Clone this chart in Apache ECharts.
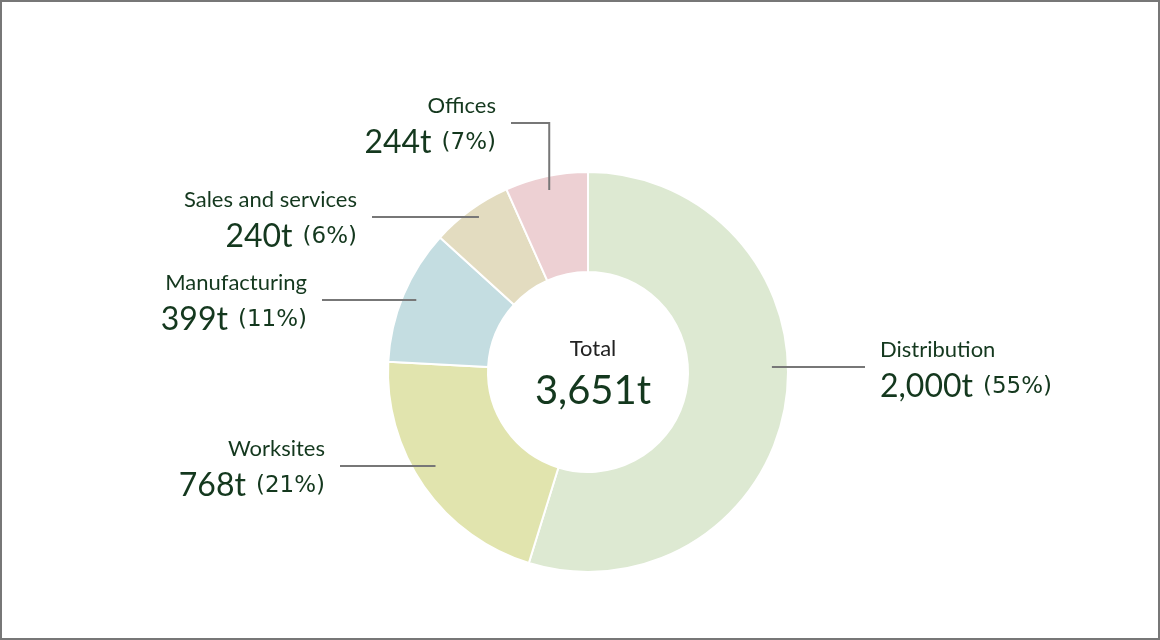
<!DOCTYPE html>
<html>
<head>
<meta charset="utf-8">
<script src="https://cdn.jsdelivr.net/npm/echarts@6/dist/echarts.min.js"></script>
<style>
  html, body { margin: 0; padding: 0; background: #fff; }
  #chart { position: absolute; left: 0; top: 0; width: 1160px; height: 640px; }
  #frame { position: absolute; left: 0; top: 0; width: 1160px; height: 640px;
    box-sizing: border-box; border: 2px solid #777; pointer-events: none; }
</style>
</head>
<body>
<div id="chart"></div>
<div id="frame"></div>
<script>
  // data
  var categories = ['Distribution', 'Worksites', 'Manufacturing', 'Sales and services', 'Offices'];
  var tonnes = [2000, 768, 399, 240, 244];
  var percents = [55, 21, 11, 6, 7];
  var totalText = '3,651t';

  var colors = ['#dde9d2', '#e1e4ae', '#c4dde1', '#e3dcc0', '#edd0d3'];
  var textColor = '#14381e';

  // label placement (layout only)
  var center = [588, 372];
  var lineStartR = 186;
  var labelY = [367, 466, 300, 217, 123];
  var lineEndX = [865, 340, 322, 372, 511];
  var elbow = [false, false, false, false, true];
  var labelGap = 15;

  var chart = echarts.init(document.getElementById('chart'));

  function fmtNum(n) {
    return String(n).replace(/\B(?=(\d{3})+(?!\d))/g, ',');
  }

  var sum = tonnes.reduce(function (a, b) { return a + b; }, 0);

  // mid angle of a slice, clockwise from 12 o'clock, radians
  function midAngle(i) {
    var before = 0;
    for (var k = 0; k < i; k++) before += tonnes[k];
    return (before + tonnes[i] / 2) / sum * Math.PI * 2;
  }

  var option = {
    animation: false,
    textStyle: { fontFamily: 'Lato, sans-serif' },
    title: {
      left: center[0],
      top: 324,
      textAlign: 'center',
      text: '{a|Total}\n{b|' + totalText + '}',
      textStyle: {
        rich: {
          a: { fontSize: 22, color: '#222', lineHeight: 40, fontWeight: 'normal', fontFamily: 'Lato, sans-serif' },
          b: { fontSize: 40, color: textColor, lineHeight: 44, fontWeight: 'normal', fontFamily: 'Lato, sans-serif' }
        }
      }
    },
    series: [{
      type: 'pie',
      center: center,
      radius: [100, 200],
      startAngle: 90,
      clockwise: true,
      silent: true,
      z: 2,
      label: { show: false },
      labelLine: { show: false },
      itemStyle: { borderColor: '#fff', borderWidth: 2 },
      data: categories.map(function (name, i) {
        return { name: name, value: tonnes[i], itemStyle: { color: colors[i] } };
      })
    }, {
      // transparent helper ring that carries the labels and leader lines
      type: 'pie',
      center: center,
      radius: [0, lineStartR],
      startAngle: 90,
      clockwise: true,
      silent: true,
      z: 5,
      itemStyle: { color: 'rgba(0,0,0,0)' },
      data: categories.map(function (name, i) {
        return { name: name, value: tonnes[i] };
      }),
      label: {
        show: true,
        position: 'outside',
        color: textColor,
        formatter: function (p) {
          var i = p.dataIndex;
          return '{n|' + p.name + '}\n{v|' + fmtNum(tonnes[i]) + 't}{p|(' + percents[i] + '%)}';
        },
        rich: {
          n: { fontSize: 22, color: textColor, lineHeight: 40 },
          v: { fontSize: 32, color: textColor, lineHeight: 34 },
          p: { fontSize: 23, color: textColor, lineHeight: 34, padding: [0, 0, 0, 10],
            fontFamily: '"DejaVu Sans", sans-serif' }
        }
      },
      labelLine: {
        show: true,
        length: 0,
        length2: 0,
        minTurnAngle: 0,
        maxSurfaceAngle: 180,
        lineStyle: { color: '#777', width: 2 }
      },
      labelLayout: function (params) {
        var i = params.dataIndex;
        var a = midAngle(i);
        var sx = center[0] + lineStartR * Math.sin(a);
        var sy = center[1] - lineStartR * Math.cos(a);
        var y = labelY[i];
        var ex = lineEndX[i];
        var right = ex > center[0];
        var points;
        if (elbow[i]) {
          // up from the slice, then across
          points = [[sx, sy], [sx, y], [ex, y]];
        } else {
          points = [[sx, y], [(sx + ex) / 2, y], [ex, y]];
        }
        return {
          x: right ? ex + labelGap : ex - labelGap,
          y: y,
          align: right ? 'left' : 'right',
          verticalAlign: 'middle',
          labelLinePoints: points
        };
      }
    }]
  };

  chart.setOption(option);
</script>
</body>
</html>
